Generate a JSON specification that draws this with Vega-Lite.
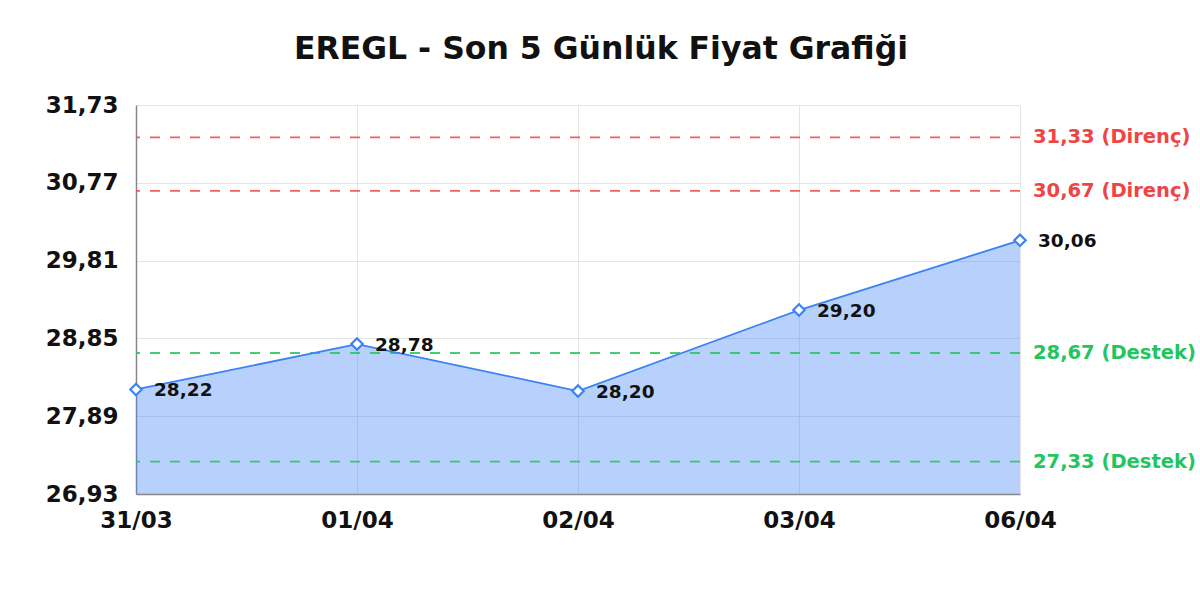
{
  "$schema": "https://vega.github.io/schema/vega-lite/v6.json",
  "autosize": {"type": "none"},
  "padding": {"left": 136, "top": 105, "right": 180, "bottom": 106},
  "width": 884,
  "height": 389,
  "background": "white",
  "title": {
    "text": "EREGL - Son 5 Günlük Fiyat Grafiği",
    "font": "DejaVu Sans",
    "fontSize": 31.5,
    "fontWeight": "bold",
    "color": "#111111",
    "anchor": "middle",
    "dx": 23,
    "offset": 4,
    "baseline": "alphabetic"
  },
  "config": {
    "view": {"stroke": null},
    "font": "DejaVu Sans",
    "axis": {
      "gridColor": "#e5e5e5",
      "gridWidth": 1,
      "domainColor": "#888888",
      "domainWidth": 1.5,
      "ticks": false,
      "labelFont": "DejaVu Sans",
      "labelFontSize": 23,
      "labelFontWeight": "bold",
      "labelColor": "#111111",
      "title": null
    }
  },
  "datasets": {
    "prices": [
      {"date": "31/03", "price": 28.22},
      {"date": "01/04", "price": 28.78},
      {"date": "02/04", "price": 28.20},
      {"date": "03/04", "price": 29.20},
      {"date": "06/04", "price": 30.06}
    ],
    "levels": [
      {"level": 31.33, "type": "Direnç"},
      {"level": 30.67, "type": "Direnç"},
      {"level": 28.67, "type": "Destek"},
      {"level": 27.33, "type": "Destek"}
    ]
  },
  "layer": [
    {
      "data": {"name": "prices"},
      "mark": {"type": "area", "color": "#3b82f6", "opacity": 0.37},
      "encoding": {
        "x": {
          "field": "date", "type": "ordinal", "sort": null,
          "scale": {"type": "point", "padding": 0},
          "axis": {"grid": true, "labelAngle": 0, "labelPadding": 15, "title": null}
        },
        "y": {
          "field": "price", "type": "quantitative",
          "scale": {"domain": [26.93, 31.73], "nice": false, "zero": false},
          "axis": {
            "grid": true,
            "values": [26.93, 27.89, 28.85, 29.81, 30.77, 31.73],
            "labelExpr": "replace(format(datum.value, '.2f'), '.', ',')",
            "labelPadding": 18,
            "title": null
          }
        },
        "y2": {"datum": 26.93}
      }
    },
    {
      "data": {"name": "levels"},
      "mark": {"type": "rule", "strokeDash": [10, 10], "strokeWidth": 1.8, "opacity": 0.85},
      "encoding": {
        "y": {"field": "level", "type": "quantitative", "title": null},
        "color": {
          "field": "type", "type": "nominal",
          "scale": {"domain": ["Direnç", "Destek"], "range": ["#ef4444", "#22c55e"]},
          "legend": null
        }
      }
    },
    {
      "data": {"name": "levels"},
      "transform": [
        {"calculate": "replace(format(datum.level, '.2f'), '.', ',') + ' (' + datum.type + ')'", "as": "label"}
      ],
      "mark": {"type": "text", "align": "left", "baseline": "middle", "dx": 13, "fontSize": 19.5, "fontWeight": "bold", "font": "DejaVu Sans"},
      "encoding": {
        "x": {"value": "width"},
        "y": {"field": "level", "type": "quantitative", "title": null},
        "text": {"field": "label"},
        "color": {
          "field": "type", "type": "nominal",
          "scale": {"domain": ["Direnç", "Destek"], "range": ["#ef4444", "#22c55e"]},
          "legend": null
        }
      }
    },
    {
      "data": {"name": "prices"},
      "mark": {"type": "line", "color": "#3b82f6", "strokeWidth": 1.8},
      "encoding": {
        "x": {"field": "date", "type": "ordinal", "sort": null, "title": null},
        "y": {"field": "price", "type": "quantitative", "title": null}
      }
    },
    {
      "data": {"name": "prices"},
      "mark": {"type": "point", "shape": "diamond", "filled": true, "fill": "white", "stroke": "#3b82f6", "strokeWidth": 2.2, "size": 130, "opacity": 1},
      "encoding": {
        "x": {"field": "date", "type": "ordinal", "sort": null, "title": null},
        "y": {"field": "price", "type": "quantitative", "title": null}
      }
    },
    {
      "data": {"name": "prices"},
      "transform": [
        {"calculate": "replace(format(datum.price, '.2f'), '.', ',')", "as": "label"}
      ],
      "mark": {"type": "text", "align": "left", "baseline": "middle", "dx": 18, "dy": 1, "fontSize": 18.5, "fontWeight": "bold", "font": "DejaVu Sans", "color": "#111111"},
      "encoding": {
        "x": {"field": "date", "type": "ordinal", "sort": null, "title": null},
        "y": {"field": "price", "type": "quantitative", "title": null},
        "text": {"field": "label"}
      }
    }
  ]
}
